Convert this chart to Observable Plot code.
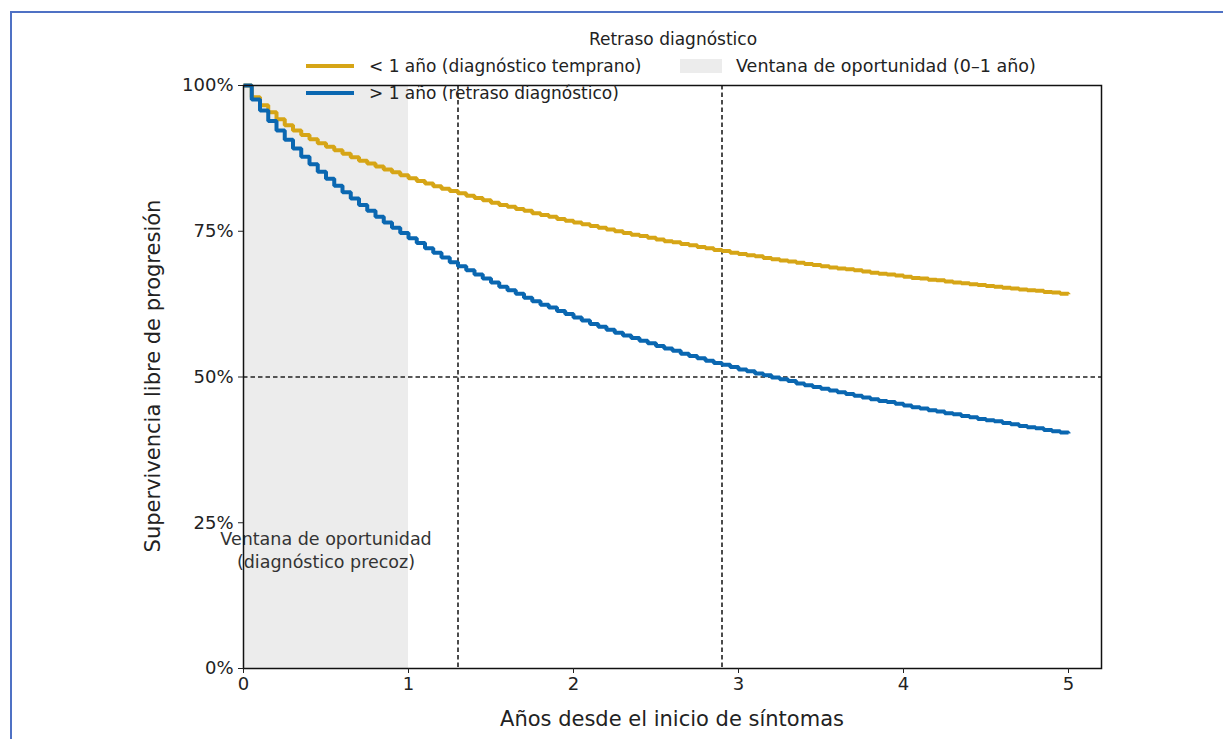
<!DOCTYPE html>
<html>
<head>
<meta charset="utf-8">
<script src="https://cdn.jsdelivr.net/npm/d3@7"></script>
<script src="https://cdn.jsdelivr.net/npm/@observablehq/plot@0.6"></script>
<style>
  html, body { margin: 0; padding: 0; background: #fff; }
  body { width: 1223px; height: 739px; position: relative; overflow: hidden; font-family: "DejaVu Sans", sans-serif; color: #222; }
  #border { position: absolute; left: 10px; top: 11px; width: 1300px; height: 800px; border-left: 2px solid #4f71c4; border-top: 2px solid #4f71c4; }
  #chart { position: absolute; left: 0; top: 0; }
  .lg { position: absolute; font-size: 17px; color: #222; white-space: nowrap; line-height: 1; }
  .sw { position: absolute; height: 4px; width: 48px; }
  .ax { position: absolute; font-size: 21px; color: #222; white-space: nowrap; line-height: 1; }
</style>
</head>
<body>
<div id="border"></div>
<div id="chart"></div>
<script>
// ---- data ----
const times = [0.00,0.05,0.10,0.15,0.20,0.25,0.30,0.35,0.40,0.45,0.50,0.55,0.60,0.65,0.70,0.75,0.80,0.85,0.90,0.95,
  1.00,1.05,1.10,1.15,1.20,1.25,1.30,1.35,1.40,1.45,1.50,1.55,1.60,1.65,1.70,1.75,1.80,1.85,1.90,1.95,
  2.00,2.05,2.10,2.15,2.20,2.25,2.30,2.35,2.40,2.45,2.50,2.55,2.60,2.65,2.70,2.75,2.80,2.85,2.90,2.95,
  3.00,3.05,3.10,3.15,3.20,3.25,3.30,3.35,3.40,3.45,3.50,3.55,3.60,3.65,3.70,3.75,3.80,3.85,3.90,3.95,
  4.00,4.05,4.10,4.15,4.20,4.25,4.30,4.35,4.40,4.45,4.50,4.55,4.60,4.65,4.70,4.75,4.80,4.85,4.90,4.95,5.00];

const earlyDiagnosis = [100.0,98.0,96.6,95.4,94.2,93.2,92.3,91.5,90.8,90.1,89.5,88.9,88.3,87.7,87.1,86.6,86.1,85.6,85.1,84.6,
  84.1,83.6,83.2,82.7,82.3,81.9,81.5,81.1,80.7,80.3,79.9,79.5,79.2,78.8,78.5,78.1,77.8,77.5,77.1,76.8,
  76.5,76.2,75.9,75.6,75.3,75.0,74.7,74.4,74.2,73.9,73.6,73.3,73.1,72.8,72.6,72.3,72.1,71.8,71.6,71.3,
  71.1,70.9,70.7,70.4,70.2,70.0,69.8,69.6,69.4,69.2,69.0,68.8,68.6,68.5,68.3,68.1,67.9,67.7,67.6,67.4,
  67.2,67.0,66.9,66.7,66.6,66.4,66.2,66.1,65.9,65.8,65.6,65.5,65.3,65.2,65.0,64.9,64.8,64.6,64.5,64.3,64.2];

const lateDiagnosis = [100.0,97.6,95.7,93.9,92.3,90.7,89.2,87.8,86.5,85.2,84.0,82.8,81.7,80.6,79.5,78.5,77.5,76.5,75.6,74.7,
  73.8,73.0,72.1,71.3,70.5,69.7,69.0,68.3,67.6,66.9,66.2,65.5,64.9,64.3,63.6,63.0,62.4,61.9,61.3,60.8,
  60.2,59.7,59.1,58.6,58.1,57.6,57.1,56.7,56.2,55.8,55.3,54.9,54.5,54.0,53.6,53.2,52.8,52.4,52.1,51.7,
  51.3,51.0,50.6,50.3,49.9,49.6,49.3,48.9,48.6,48.3,48.0,47.7,47.4,47.1,46.8,46.5,46.2,45.9,45.7,45.4,
  45.1,44.8,44.6,44.3,44.1,43.8,43.6,43.3,43.1,42.8,42.6,42.4,42.1,41.9,41.6,41.4,41.2,40.9,40.7,40.5,40.3];

const seriesNames = ["< 1 año (diagnóstico temprano)", "> 1 año (retraso diagnóstico)"];
const seriesColors = ["#d6a516", "#0a67b1"];
const windowRange = [0, 1];
const windowLabel = "Ventana de oportunidad (0–1 año)";
const windowNote = "Ventana de oportunidad\n(diagnóstico precoz)";
const markerTimes = [1.3, 2.9];
const medianLevel = [50];
const xTicks = [0, 1, 2, 3, 4, 5];
const yTicks = [0, 25, 50, 75, 100];
const xDomain = [0, 5.2];
const yDomain = [0, 100];
const legendTitle = "Retraso diagnóstico";
const xLabel = "Años desde el inicio de síntomas";
const yLabel = "Supervivencia libre de progresión";

// ---- build table ----
const rows = [];
times.forEach((t, i) => rows.push({t, s: earlyDiagnosis[i], g: seriesNames[0]}));
times.forEach((t, i) => rows.push({t, s: lateDiagnosis[i], g: seriesNames[1]}));

const W = 1223, H = 739;
const plot = Plot.plot({
  width: W, height: H,
  marginLeft: 243, marginRight: 122, marginTop: 85, marginBottom: 71,
  style: {fontFamily: "DejaVu Sans, sans-serif", fontSize: "18px", color: "#222", background: "transparent", overflow: "visible"},
  x: {domain: xDomain, label: null},
  y: {domain: yDomain, label: null},
  color: {domain: seriesNames, range: seriesColors},
  marks: [
    Plot.rect([{a: windowRange[0], b: windowRange[1]}], {x1: "a", x2: "b", y1: yDomain[0], y2: yDomain[1], fill: "#ececec"}),
    Plot.ruleY(medianLevel, {stroke: "#222", strokeWidth: 1.5, strokeDasharray: "4.5,3"}),
    Plot.ruleX(markerTimes, {stroke: "#111", strokeWidth: 1.5, strokeDasharray: "4.5,3"}),
    Plot.line(rows, {x: "t", y: "s", z: "g", stroke: "g", strokeWidth: 4, curve: "step-after", strokeLinejoin: "miter", strokeLinecap: "butt"}),
    Plot.text([windowNote], {x: (windowRange[0] + windowRange[1]) / 2, y: 20.5, text: d => d, fontSize: 17.5, fill: "#333", lineHeight: 1.3, lineAnchor: "middle"}),
    Plot.frame({stroke: "#111", strokeWidth: 1.5}),
    Plot.axisX({ticks: xTicks, tickFormat: d => String(d), tickSize: 5, tickPadding: 4, fontSize: 18, label: null}),
    Plot.axisY({ticks: yTicks, tickFormat: d => d + "%", tickSize: 5, tickPadding: 5, fontSize: 18, label: null})
  ]
});
document.getElementById("chart").appendChild(plot);

// ---- legend & axis titles as HTML ----
function add(cls, text, style) {
  const d = document.createElement("div");
  d.className = cls;
  if (text != null) d.textContent = text;
  Object.assign(d.style, style);
  document.body.appendChild(d);
  return d;
}
add("lg", legendTitle, {left: "673px", top: "31px", transform: "translateX(-50%)"});
add("sw", null, {left: "306px", top: "64px", background: seriesColors[0]});
add("lg", seriesNames[0], {left: "369px", top: "58px"});
add("sw", null, {left: "306px", top: "91px", background: seriesColors[1]});
add("lg", seriesNames[1], {left: "369px", top: "85px"});
add("sw", null, {left: "680px", top: "59px", height: "14px", width: "42px", background: "#ececec"});
add("lg", windowLabel, {left: "736px", top: "58px", fontSize: "17.5px"});
add("ax", xLabel, {left: "672px", top: "709px", transform: "translateX(-50%)"});
add("ax", yLabel, {left: "153px", top: "376px", transform: "translate(-50%,-50%) rotate(-90deg)"});
</script>
</body>
</html>
